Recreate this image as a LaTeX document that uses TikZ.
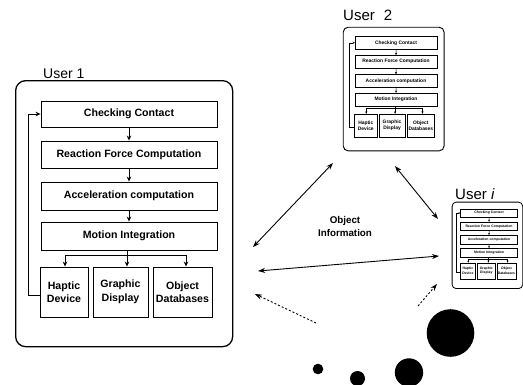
\documentclass[tikz,border=0pt]{standalone}
\usepackage{fontspec}
\setmainfont{Liberation Sans}
\usetikzlibrary{arrows.meta}
\tikzset{
  blk/.style={draw, line width=0.9pt, inner sep=1pt, align=center,
    font=\fontsize{10.6}{13.5}\selectfont\bfseries},
  userframe/.style={draw, line width=1.3pt, rounded corners=10pt, inner sep=0pt},
  flowarrow/.style={-{Stealth[length=5pt,width=4.5pt]}, line width=0.9pt},
  flowline/.style={line width=0.9pt},
  linkarrow/.style={{Stealth[length=7pt,width=5pt]}-{Stealth[length=7pt,width=5pt]}, line width=0.9pt},
  dasharrow/.style={-{Stealth[length=7pt,width=5pt]}, line width=0.9pt, dash pattern=on 2pt off 2pt},
  ball/.style={circle, fill=black, draw=none, inner sep=0pt},
  titletext/.style={inner sep=0pt, anchor=base west},
  info/.style={align=center, inner sep=0pt, font=\fontsize{9.8}{13}\selectfont\bfseries}
}
% one user block, local coordinates: top-left corner of frame at (0,0), y downward
\newcommand\userblock[1]{%
  \node[userframe, minimum width=217pt, minimum height=266pt, anchor=north west] (#1frame) at (0,0) {};
  \node[blk, minimum width=176pt, minimum height=26pt] (#1cc) at (114,34) {Checking Contact};
  \node[blk, minimum width=176pt, minimum height=27pt] (#1rf) at (114,74.5) {Reaction Force Computation};
  \node[blk, minimum width=176pt, minimum height=28pt] (#1ac) at (114,116) {Acceleration computation};
  \node[blk, minimum width=176pt, minimum height=28pt] (#1mi) at (114,156) {Motion Integration};
  \node[blk, minimum width=48pt, minimum height=50pt] (#1hd) at (49,212) {Haptic\\Device};
  \node[blk, minimum width=55pt, minimum height=50pt] (#1gd) at (105.5,212) {Graphic\\Display};
  \node[blk, minimum width=59pt, minimum height=50pt] (#1od) at (167.5,212) {Object\\Databases};
  \draw[flowarrow] (#1cc) -- (#1rf);
  \draw[flowarrow] (#1rf) -- (#1ac);
  \draw[flowarrow] (#1ac) -- (#1mi);
  \coordinate (#1brl) at (50,175);
  \coordinate (#1brm) at (112,175);
  \coordinate (#1brr) at (171,175);
  \coordinate (#1fb) at (13,0);
  \draw[flowline] (#1brm |- #1mi.south) -- (#1brm);
  \draw[flowline] (#1brl) -- (#1brr);
  \draw[flowarrow] (#1brl) -- (#1brl |- #1hd.north);
  \draw[flowarrow] (#1brm) -- (#1brm |- #1gd.north);
  \draw[flowarrow] (#1brr) -- (#1brr |- #1od.north);
  \draw[flowarrow] ([yshift=-3pt]#1hd.west) -- ([yshift=-3pt]#1hd.west -| #1fb) -- (#1fb |- #1cc.west) -- (#1cc.west);
}
\begin{document}
\begin{tikzpicture}[x=1pt,y=-1pt]
\useasboundingbox (0,0) rectangle (523,384);

% User 1
\begin{scope}[shift={(15,80)}]
  \userblock{a}
\end{scope}
\node[titletext, font=\fontsize{14}{16}\selectfont] (t1) at (43,78) {User 1};

% User 2
\begin{scope}[shift={(343,27)}, scale=0.465, transform shape,
  userframe/.style={draw, line width=0.9pt, rounded corners=5pt, inner sep=0pt},
  blk/.style={draw, line width=0.6pt, inner sep=1pt, align=center, font=\fontsize{10.6}{13.5}\selectfont\bfseries},
  flowarrow/.style={-{Stealth[length=2.5pt,width=2.2pt]}, line width=0.5pt},
  flowline/.style={line width=0.5pt}]
  \userblock{b}
\end{scope}
\node[titletext, font=\fontsize{15}{17}\selectfont] (t2) at (343,20) {User\hspace{0.6em}2};

% User i
\begin{scope}[shift={(452,202)}, scale=0.325, transform shape,
  userframe/.style={draw, line width=0.8pt, rounded corners=4pt, inner sep=0pt},
  blk/.style={draw, line width=0.5pt, inner sep=1pt, align=center, font=\fontsize{10.6}{13.5}\selectfont\bfseries},
  flowarrow/.style={-{Stealth[length=2pt,width=1.8pt]}, line width=0.4pt},
  flowline/.style={line width=0.4pt}]
  \userblock{c}
\end{scope}
\node[titletext, font=\fontsize{15}{17}\selectfont] (t3) at (455,199) {User \textit{i}};

% object information
\node[info] (oi) at (345,226) {Object\\Information};

% links
\coordinate (l1a) at (253,247);
\coordinate (l1b) at (333,163);
\coordinate (l2a) at (395,166);
\coordinate (l2b) at (438,219);
\coordinate (l3a) at (258,271);
\coordinate (l3b) at (439,256);
\coordinate (d1a) at (316,323);
\coordinate (d1b) at (255,294);
\coordinate (d2a) at (418,306);
\coordinate (d2b) at (437,284);
\draw[linkarrow] (l1a) -- (l1b);
\draw[linkarrow] (l2a) -- (l2b);
\draw[linkarrow] (l3a) -- (l3b);
\draw[dasharrow] (d1a) -- (d1b);
\draw[dasharrow] (d2a) -- (d2b);

% balls
\node[ball, minimum size=47.6pt] (b1) at (450.5,333) {};
\node[ball, minimum size=28.4pt] (b2) at (409,372.5) {};
\node[ball, minimum size=15pt] (b3) at (357.5,378.5) {};
\node[ball, minimum size=10.6pt] (b4) at (318,369) {};
\end{tikzpicture}
\end{document}
